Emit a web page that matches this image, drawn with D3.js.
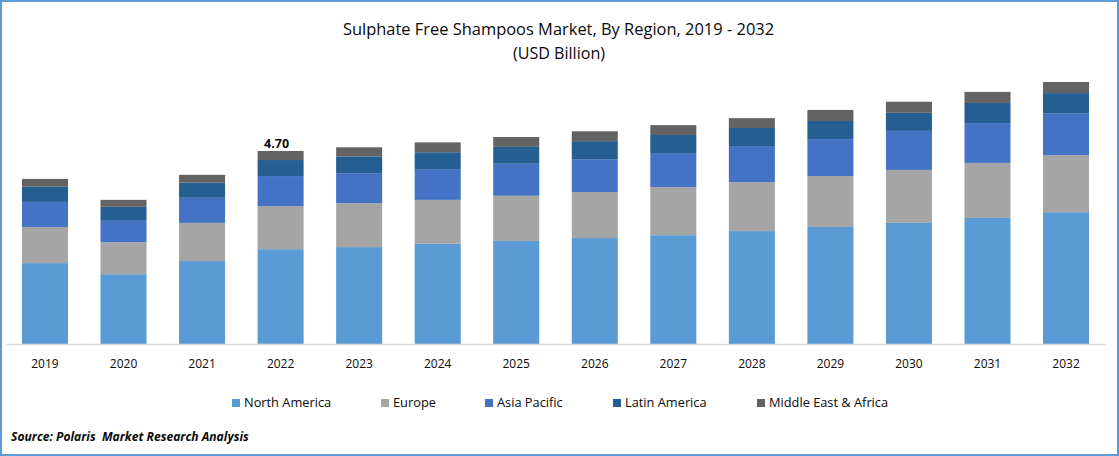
<!DOCTYPE html>
<html>
<head>
<meta charset="utf-8">
<script src="https://cdn.jsdelivr.net/npm/d3@7"></script>
<style>
  html, body { margin: 0; padding: 0; background: #fff; }
  svg { display: block; }
  text { font-family: "Open Sans", sans-serif; fill: #0a0a0a; }
</style>
</head>
<body>
<svg id="chart"></svg>
<script>
const years = ["2019","2020","2021","2022","2023","2024","2025","2026","2027","2028","2029","2030","2031","2032"];
const regions = ["North America","Europe","Asia Pacific","Latin America","Middle East & Africa"];
const colors = ["#5b9bd5","#a5a5a5","#4472c4","#255e91","#636363"];

const northAmerica = [1.97,1.70,2.02,2.31,2.36,2.44,2.51,2.58,2.65,2.75,2.85,2.95,3.07,3.21];
const europe       = [0.88,0.78,0.93,1.05,1.07,1.07,1.10,1.12,1.17,1.19,1.24,1.29,1.34,1.39];
const asiaPacific  = [0.61,0.54,0.61,0.73,0.73,0.75,0.78,0.80,0.83,0.88,0.90,0.95,0.97,1.02];
const latinAmerica = [0.37,0.32,0.37,0.39,0.41,0.41,0.41,0.44,0.44,0.44,0.44,0.44,0.49,0.49];
const middleEast   = [0.19,0.17,0.19,0.22,0.22,0.24,0.24,0.24,0.24,0.24,0.27,0.27,0.27,0.27];

const labelYear = "2022";
const labelText = "4.70";

const width = 1119, height = 456;
const baseline = 344;

const svg = d3.select("#chart").attr("width", width).attr("height", height);

// frame
svg.append("rect")
    .attr("x", 1).attr("y", 1)
    .attr("width", width - 2).attr("height", height - 2)
    .attr("fill", "#fff")
    .attr("stroke", "#5b9bd5")
    .attr("stroke-width", 2);

// title
svg.append("text").attr("x", 558.5).attr("y", 35)
    .attr("text-anchor", "middle").style("font-size", "16.45px")
    .text("Sulphate Free Shampoos Market, By Region, 2019 - 2032");
svg.append("text").attr("x", 559).attr("y", 59)
    .attr("text-anchor", "middle").style("font-size", "16.1px")
    .text("(USD Billion)");

const x = d3.scaleBand().domain(years).range([5.7, 1105.3]).paddingInner(0.414).paddingOuter(0.207);
const y = d3.scaleLinear().domain([0, 4.7]).range([baseline, 151]);

const rows = years.map((yr, i) => ({
    year: yr,
    "North America": northAmerica[i],
    "Europe": europe[i],
    "Asia Pacific": asiaPacific[i],
    "Latin America": latinAmerica[i],
    "Middle East & Africa": middleEast[i]
}));
const stacked = d3.stack().keys(regions)(rows);

svg.append("g").selectAll("g")
    .data(stacked)
    .enter().append("g")
    .attr("fill", (d, i) => colors[i])
    .selectAll("rect")
    .data(d => d)
    .enter().append("rect")
    .attr("x", d => x(d.data.year))
    .attr("y", d => y(d[1]))
    .attr("width", x.bandwidth())
    .attr("height", d => y(d[0]) - y(d[1]));

// axis
const axis = svg.append("g")
    .attr("transform", `translate(0,${baseline})`)
    .call(d3.axisBottom(x).tickSize(0).tickPadding(15));
axis.select(".domain").attr("stroke", "#d9d9d9").attr("stroke-width", 1.5);
axis.selectAll("text").style("font-size", "12px").style("font-family", '"Open Sans", sans-serif').attr("fill", "#0a0a0a");

// label on the 2022 bar
const labelTop = d3.sum(regions, r => rows[years.indexOf(labelYear)][r]);
svg.append("text")
    .attr("x", x(labelYear) + x.bandwidth() / 2 - 4)
    .attr("y", y(labelTop) - 3)
    .attr("text-anchor", "middle")
    .style("font-size", "12.5px").style("font-weight", 700)
    .text(labelText);

// legend
const legendX = [232, 381, 485, 613, 757];
const legend = svg.append("g").selectAll("g")
    .data(regions)
    .enter().append("g")
    .attr("transform", (d, i) => `translate(${legendX[i]},399)`);
legend.append("rect").attr("width", 8).attr("height", 8).attr("fill", (d, i) => colors[i]);
legend.append("text").attr("x", 12).attr("y", 8).style("font-size", "12.8px").text(d => d);

// source
svg.append("text").attr("x", 11).attr("y", 441)
    .style("font-size", "12.1px").style("font-weight", 700).style("font-style", "italic")
    .attr("xml:space", "preserve")
    .text("Source: Polaris  Market Research Analysis");
</script>
</body>
</html>
